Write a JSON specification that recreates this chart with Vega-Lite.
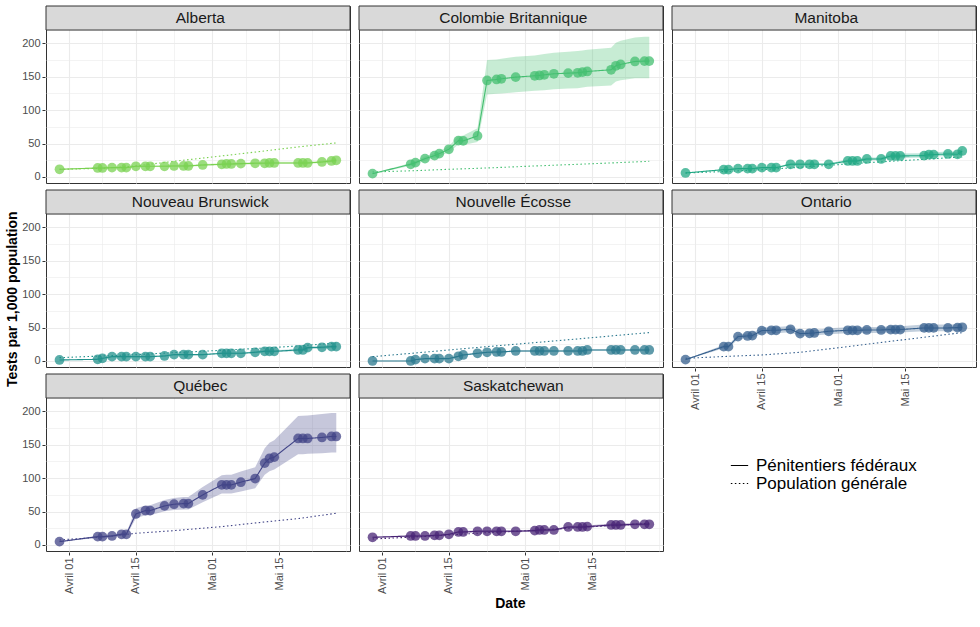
{
  "$schema": "https://vega.github.io/schema/vega-lite/v6.json",
  "config": {
    "font": "Liberation Sans",
    "view": {"stroke": "#333333", "strokeWidth": 1},
    "header": {"labels": false, "title": null},
    "axis": {"gridColor": "#EBEBEB", "domain": false, "tickColor": "#333333", "tickSize": 3, "labelColor": "#4D4D4D", "labelFontSize": 11, "labelPadding": 2, "titleFontSize": 14, "titleFontWeight": "bold", "titleColor": "#000000"},
    "legend": {"orient": "none"}
  },
  "title": {"text": "Date", "orient": "bottom", "anchor": "middle", "fontSize": 14, "fontWeight": "bold", "color": "#000000", "offset": 4, "dx": 19},
  "datasets": {"all": [
    {"p":"Alberta","d":"2020-03-30","t":"Pénitentiers fédéraux","v":11.5,"lo":11,"hi":12},
    {"p":"Alberta","d":"2020-04-07","t":"Pénitentiers fédéraux","v":13.5,"lo":12.5,"hi":14.5},
    {"p":"Alberta","d":"2020-04-08","t":"Pénitentiers fédéraux","v":13.5,"lo":12.5,"hi":14.5},
    {"p":"Alberta","d":"2020-04-10","t":"Pénitentiers fédéraux","v":14,"lo":13,"hi":15},
    {"p":"Alberta","d":"2020-04-12","t":"Pénitentiers fédéraux","v":14,"lo":13,"hi":15},
    {"p":"Alberta","d":"2020-04-13","t":"Pénitentiers fédéraux","v":14,"lo":13,"hi":15},
    {"p":"Alberta","d":"2020-04-15","t":"Pénitentiers fédéraux","v":16,"lo":15,"hi":17},
    {"p":"Alberta","d":"2020-04-17","t":"Pénitentiers fédéraux","v":16,"lo":15,"hi":17},
    {"p":"Alberta","d":"2020-04-18","t":"Pénitentiers fédéraux","v":16,"lo":15,"hi":17},
    {"p":"Alberta","d":"2020-04-21","t":"Pénitentiers fédéraux","v":16,"lo":15,"hi":17.5},
    {"p":"Alberta","d":"2020-04-23","t":"Pénitentiers fédéraux","v":16.5,"lo":15.5,"hi":18},
    {"p":"Alberta","d":"2020-04-25","t":"Pénitentiers fédéraux","v":16.5,"lo":15.5,"hi":18},
    {"p":"Alberta","d":"2020-04-26","t":"Pénitentiers fédéraux","v":16.5,"lo":15.5,"hi":18},
    {"p":"Alberta","d":"2020-04-29","t":"Pénitentiers fédéraux","v":18,"lo":16.5,"hi":19.5},
    {"p":"Alberta","d":"2020-05-03","t":"Pénitentiers fédéraux","v":19,"lo":17.5,"hi":20.5},
    {"p":"Alberta","d":"2020-05-04","t":"Pénitentiers fédéraux","v":19.5,"lo":18,"hi":21},
    {"p":"Alberta","d":"2020-05-05","t":"Pénitentiers fédéraux","v":19.5,"lo":18,"hi":21},
    {"p":"Alberta","d":"2020-05-07","t":"Pénitentiers fédéraux","v":20,"lo":18.5,"hi":21.5},
    {"p":"Alberta","d":"2020-05-10","t":"Pénitentiers fédéraux","v":20.5,"lo":19,"hi":22.5},
    {"p":"Alberta","d":"2020-05-12","t":"Pénitentiers fédéraux","v":20.5,"lo":19,"hi":22.5},
    {"p":"Alberta","d":"2020-05-13","t":"Pénitentiers fédéraux","v":21,"lo":19.5,"hi":23},
    {"p":"Alberta","d":"2020-05-14","t":"Pénitentiers fédéraux","v":21,"lo":19.5,"hi":23},
    {"p":"Alberta","d":"2020-05-19","t":"Pénitentiers fédéraux","v":21,"lo":19.5,"hi":23},
    {"p":"Alberta","d":"2020-05-20","t":"Pénitentiers fédéraux","v":21,"lo":19.5,"hi":23},
    {"p":"Alberta","d":"2020-05-21","t":"Pénitentiers fédéraux","v":21,"lo":19.5,"hi":23},
    {"p":"Alberta","d":"2020-05-24","t":"Pénitentiers fédéraux","v":22.5,"lo":21,"hi":24.5},
    {"p":"Alberta","d":"2020-05-26","t":"Pénitentiers fédéraux","v":24,"lo":22,"hi":26},
    {"p":"Alberta","d":"2020-05-27","t":"Pénitentiers fédéraux","v":25,"lo":23,"hi":27},

    {"p":"Colombie Britannique","d":"2020-03-30","t":"Pénitentiers fédéraux","v":5,"lo":4.5,"hi":5.5},
    {"p":"Colombie Britannique","d":"2020-04-07","t":"Pénitentiers fédéraux","v":19,"lo":17,"hi":21},
    {"p":"Colombie Britannique","d":"2020-04-08","t":"Pénitentiers fédéraux","v":21.5,"lo":19,"hi":24},
    {"p":"Colombie Britannique","d":"2020-04-10","t":"Pénitentiers fédéraux","v":27.5,"lo":24.5,"hi":30.5},
    {"p":"Colombie Britannique","d":"2020-04-12","t":"Pénitentiers fédéraux","v":32,"lo":28.5,"hi":36},
    {"p":"Colombie Britannique","d":"2020-04-13","t":"Pénitentiers fédéraux","v":35,"lo":31,"hi":39},
    {"p":"Colombie Britannique","d":"2020-04-15","t":"Pénitentiers fédéraux","v":41.5,"lo":37,"hi":46.5},
    {"p":"Colombie Britannique","d":"2020-04-17","t":"Pénitentiers fédéraux","v":54.5,"lo":48.5,"hi":61},
    {"p":"Colombie Britannique","d":"2020-04-18","t":"Pénitentiers fédéraux","v":54,"lo":48,"hi":62},
    {"p":"Colombie Britannique","d":"2020-04-21","t":"Pénitentiers fédéraux","v":61.5,"lo":52.5,"hi":73},
    {"p":"Colombie Britannique","d":"2020-04-23","t":"Pénitentiers fédéraux","v":144.5,"lo":123.5,"hi":175},
    {"p":"Colombie Britannique","d":"2020-04-25","t":"Pénitentiers fédéraux","v":146,"lo":124.5,"hi":176},
    {"p":"Colombie Britannique","d":"2020-04-26","t":"Pénitentiers fédéraux","v":147,"lo":125,"hi":177},
    {"p":"Colombie Britannique","d":"2020-04-29","t":"Pénitentiers fédéraux","v":149.5,"lo":127,"hi":180},
    {"p":"Colombie Britannique","d":"2020-05-03","t":"Pénitentiers fédéraux","v":151.5,"lo":129,"hi":182},
    {"p":"Colombie Britannique","d":"2020-05-04","t":"Pénitentiers fédéraux","v":152,"lo":129.5,"hi":183},
    {"p":"Colombie Britannique","d":"2020-05-05","t":"Pénitentiers fédéraux","v":153,"lo":130,"hi":184},
    {"p":"Colombie Britannique","d":"2020-05-07","t":"Pénitentiers fédéraux","v":154.5,"lo":131.5,"hi":186},
    {"p":"Colombie Britannique","d":"2020-05-10","t":"Pénitentiers fédéraux","v":155.5,"lo":132.5,"hi":187.5},
    {"p":"Colombie Britannique","d":"2020-05-12","t":"Pénitentiers fédéraux","v":156,"lo":133,"hi":188.5},
    {"p":"Colombie Britannique","d":"2020-05-13","t":"Pénitentiers fédéraux","v":157,"lo":134,"hi":189.5},
    {"p":"Colombie Britannique","d":"2020-05-14","t":"Pénitentiers fédéraux","v":158,"lo":135,"hi":190.5},
    {"p":"Colombie Britannique","d":"2020-05-19","t":"Pénitentiers fédéraux","v":160.5,"lo":137,"hi":193.5},
    {"p":"Colombie Britannique","d":"2020-05-20","t":"Pénitentiers fédéraux","v":166.5,"lo":143,"hi":201},
    {"p":"Colombie Britannique","d":"2020-05-21","t":"Pénitentiers fédéraux","v":168.5,"lo":145,"hi":204},
    {"p":"Colombie Britannique","d":"2020-05-24","t":"Pénitentiers fédéraux","v":173,"lo":148,"hi":209},
    {"p":"Colombie Britannique","d":"2020-05-26","t":"Pénitentiers fédéraux","v":173.5,"lo":148,"hi":210},
    {"p":"Colombie Britannique","d":"2020-05-27","t":"Pénitentiers fédéraux","v":173.5,"lo":148,"hi":210},

    {"p":"Manitoba","d":"2020-03-30","t":"Pénitentiers fédéraux","v":6,"lo":5.5,"hi":6.5},
    {"p":"Manitoba","d":"2020-04-07","t":"Pénitentiers fédéraux","v":11,"lo":10,"hi":12},
    {"p":"Manitoba","d":"2020-04-08","t":"Pénitentiers fédéraux","v":11,"lo":10,"hi":12},
    {"p":"Manitoba","d":"2020-04-10","t":"Pénitentiers fédéraux","v":12.5,"lo":11.5,"hi":13.5},
    {"p":"Manitoba","d":"2020-04-12","t":"Pénitentiers fédéraux","v":12.5,"lo":11.5,"hi":13.5},
    {"p":"Manitoba","d":"2020-04-13","t":"Pénitentiers fédéraux","v":12.5,"lo":11.5,"hi":13.5},
    {"p":"Manitoba","d":"2020-04-15","t":"Pénitentiers fédéraux","v":14,"lo":13,"hi":15},
    {"p":"Manitoba","d":"2020-04-17","t":"Pénitentiers fédéraux","v":14,"lo":13,"hi":15},
    {"p":"Manitoba","d":"2020-04-18","t":"Pénitentiers fédéraux","v":14,"lo":13,"hi":15},
    {"p":"Manitoba","d":"2020-04-21","t":"Pénitentiers fédéraux","v":19,"lo":17.5,"hi":20.5},
    {"p":"Manitoba","d":"2020-04-23","t":"Pénitentiers fédéraux","v":19,"lo":17.5,"hi":20.5},
    {"p":"Manitoba","d":"2020-04-25","t":"Pénitentiers fédéraux","v":19,"lo":17.5,"hi":20.5},
    {"p":"Manitoba","d":"2020-04-26","t":"Pénitentiers fédéraux","v":19,"lo":17.5,"hi":20.5},
    {"p":"Manitoba","d":"2020-04-29","t":"Pénitentiers fédéraux","v":19,"lo":17.5,"hi":20.5},
    {"p":"Manitoba","d":"2020-05-03","t":"Pénitentiers fédéraux","v":24,"lo":22,"hi":26},
    {"p":"Manitoba","d":"2020-05-04","t":"Pénitentiers fédéraux","v":24,"lo":22,"hi":26},
    {"p":"Manitoba","d":"2020-05-05","t":"Pénitentiers fédéraux","v":24,"lo":22,"hi":26},
    {"p":"Manitoba","d":"2020-05-07","t":"Pénitentiers fédéraux","v":27,"lo":25,"hi":29},
    {"p":"Manitoba","d":"2020-05-10","t":"Pénitentiers fédéraux","v":27,"lo":25,"hi":29},
    {"p":"Manitoba","d":"2020-05-12","t":"Pénitentiers fédéraux","v":31.5,"lo":28.5,"hi":35},
    {"p":"Manitoba","d":"2020-05-13","t":"Pénitentiers fédéraux","v":31.5,"lo":28.5,"hi":35},
    {"p":"Manitoba","d":"2020-05-14","t":"Pénitentiers fédéraux","v":31.5,"lo":28.5,"hi":35},
    {"p":"Manitoba","d":"2020-05-19","t":"Pénitentiers fédéraux","v":32,"lo":29,"hi":35.5},
    {"p":"Manitoba","d":"2020-05-20","t":"Pénitentiers fédéraux","v":33.5,"lo":30.5,"hi":37},
    {"p":"Manitoba","d":"2020-05-21","t":"Pénitentiers fédéraux","v":33.5,"lo":30.5,"hi":37},
    {"p":"Manitoba","d":"2020-05-24","t":"Pénitentiers fédéraux","v":34.5,"lo":31.5,"hi":38},
    {"p":"Manitoba","d":"2020-05-26","t":"Pénitentiers fédéraux","v":34,"lo":31,"hi":37.5},
    {"p":"Manitoba","d":"2020-05-27","t":"Pénitentiers fédéraux","v":39,"lo":35.5,"hi":43},

    {"p":"Nouveau Brunswick","d":"2020-03-30","t":"Pénitentiers fédéraux","v":1.5,"lo":1,"hi":2},
    {"p":"Nouveau Brunswick","d":"2020-04-07","t":"Pénitentiers fédéraux","v":2.5,"lo":2,"hi":3},
    {"p":"Nouveau Brunswick","d":"2020-04-08","t":"Pénitentiers fédéraux","v":4,"lo":3.5,"hi":4.5},
    {"p":"Nouveau Brunswick","d":"2020-04-10","t":"Pénitentiers fédéraux","v":6.5,"lo":5.5,"hi":7.5},
    {"p":"Nouveau Brunswick","d":"2020-04-12","t":"Pénitentiers fédéraux","v":6.5,"lo":5.5,"hi":7.5},
    {"p":"Nouveau Brunswick","d":"2020-04-13","t":"Pénitentiers fédéraux","v":6.5,"lo":5.5,"hi":7.5},
    {"p":"Nouveau Brunswick","d":"2020-04-15","t":"Pénitentiers fédéraux","v":6.5,"lo":5.5,"hi":7.5},
    {"p":"Nouveau Brunswick","d":"2020-04-17","t":"Pénitentiers fédéraux","v":6.5,"lo":5.5,"hi":7.5},
    {"p":"Nouveau Brunswick","d":"2020-04-18","t":"Pénitentiers fédéraux","v":6.5,"lo":5.5,"hi":7.5},
    {"p":"Nouveau Brunswick","d":"2020-04-21","t":"Pénitentiers fédéraux","v":7.5,"lo":6.5,"hi":8.5},
    {"p":"Nouveau Brunswick","d":"2020-04-23","t":"Pénitentiers fédéraux","v":9.5,"lo":8.5,"hi":10.5},
    {"p":"Nouveau Brunswick","d":"2020-04-25","t":"Pénitentiers fédéraux","v":9.5,"lo":8.5,"hi":10.5},
    {"p":"Nouveau Brunswick","d":"2020-04-26","t":"Pénitentiers fédéraux","v":9.5,"lo":8.5,"hi":10.5},
    {"p":"Nouveau Brunswick","d":"2020-04-29","t":"Pénitentiers fédéraux","v":9.5,"lo":8.5,"hi":10.5},
    {"p":"Nouveau Brunswick","d":"2020-05-03","t":"Pénitentiers fédéraux","v":11.5,"lo":10.5,"hi":12.5},
    {"p":"Nouveau Brunswick","d":"2020-05-04","t":"Pénitentiers fédéraux","v":11.5,"lo":10.5,"hi":12.5},
    {"p":"Nouveau Brunswick","d":"2020-05-05","t":"Pénitentiers fédéraux","v":11.5,"lo":10.5,"hi":12.5},
    {"p":"Nouveau Brunswick","d":"2020-05-07","t":"Pénitentiers fédéraux","v":11.5,"lo":10.5,"hi":12.5},
    {"p":"Nouveau Brunswick","d":"2020-05-10","t":"Pénitentiers fédéraux","v":13,"lo":11.5,"hi":14.5},
    {"p":"Nouveau Brunswick","d":"2020-05-12","t":"Pénitentiers fédéraux","v":14.5,"lo":13,"hi":16},
    {"p":"Nouveau Brunswick","d":"2020-05-13","t":"Pénitentiers fédéraux","v":14.5,"lo":13,"hi":16},
    {"p":"Nouveau Brunswick","d":"2020-05-14","t":"Pénitentiers fédéraux","v":14.5,"lo":13,"hi":16},
    {"p":"Nouveau Brunswick","d":"2020-05-19","t":"Pénitentiers fédéraux","v":16.5,"lo":15,"hi":18},
    {"p":"Nouveau Brunswick","d":"2020-05-20","t":"Pénitentiers fédéraux","v":16.5,"lo":15,"hi":18},
    {"p":"Nouveau Brunswick","d":"2020-05-21","t":"Pénitentiers fédéraux","v":20,"lo":18,"hi":22},
    {"p":"Nouveau Brunswick","d":"2020-05-24","t":"Pénitentiers fédéraux","v":20.5,"lo":18.5,"hi":22.5},
    {"p":"Nouveau Brunswick","d":"2020-05-26","t":"Pénitentiers fédéraux","v":21.5,"lo":19.5,"hi":23.5},
    {"p":"Nouveau Brunswick","d":"2020-05-27","t":"Pénitentiers fédéraux","v":21.5,"lo":19.5,"hi":23.5},

    {"p":"Nouvelle Écosse","d":"2020-03-30","t":"Pénitentiers fédéraux","v":0,"lo":0,"hi":0.5},
    {"p":"Nouvelle Écosse","d":"2020-04-07","t":"Pénitentiers fédéraux","v":0,"lo":0,"hi":0.5},
    {"p":"Nouvelle Écosse","d":"2020-04-08","t":"Pénitentiers fédéraux","v":2,"lo":1.5,"hi":2.5},
    {"p":"Nouvelle Écosse","d":"2020-04-10","t":"Pénitentiers fédéraux","v":3.5,"lo":3,"hi":4},
    {"p":"Nouvelle Écosse","d":"2020-04-12","t":"Pénitentiers fédéraux","v":3.5,"lo":3,"hi":4},
    {"p":"Nouvelle Écosse","d":"2020-04-13","t":"Pénitentiers fédéraux","v":3.5,"lo":3,"hi":4},
    {"p":"Nouvelle Écosse","d":"2020-04-15","t":"Pénitentiers fédéraux","v":3.5,"lo":3,"hi":4},
    {"p":"Nouvelle Écosse","d":"2020-04-17","t":"Pénitentiers fédéraux","v":7,"lo":6,"hi":8},
    {"p":"Nouvelle Écosse","d":"2020-04-18","t":"Pénitentiers fédéraux","v":9,"lo":8,"hi":10},
    {"p":"Nouvelle Écosse","d":"2020-04-21","t":"Pénitentiers fédéraux","v":11.5,"lo":10.5,"hi":12.5},
    {"p":"Nouvelle Écosse","d":"2020-04-23","t":"Pénitentiers fédéraux","v":13,"lo":12,"hi":14},
    {"p":"Nouvelle Écosse","d":"2020-04-25","t":"Pénitentiers fédéraux","v":13.5,"lo":12.5,"hi":14.5},
    {"p":"Nouvelle Écosse","d":"2020-04-26","t":"Pénitentiers fédéraux","v":13.5,"lo":12.5,"hi":14.5},
    {"p":"Nouvelle Écosse","d":"2020-04-29","t":"Pénitentiers fédéraux","v":15,"lo":14,"hi":16},
    {"p":"Nouvelle Écosse","d":"2020-05-03","t":"Pénitentiers fédéraux","v":15,"lo":14,"hi":16},
    {"p":"Nouvelle Écosse","d":"2020-05-04","t":"Pénitentiers fédéraux","v":15,"lo":14,"hi":16},
    {"p":"Nouvelle Écosse","d":"2020-05-05","t":"Pénitentiers fédéraux","v":15,"lo":14,"hi":16},
    {"p":"Nouvelle Écosse","d":"2020-05-07","t":"Pénitentiers fédéraux","v":15,"lo":14,"hi":16},
    {"p":"Nouvelle Écosse","d":"2020-05-10","t":"Pénitentiers fédéraux","v":15,"lo":14,"hi":16},
    {"p":"Nouvelle Écosse","d":"2020-05-12","t":"Pénitentiers fédéraux","v":15,"lo":14,"hi":16},
    {"p":"Nouvelle Écosse","d":"2020-05-13","t":"Pénitentiers fédéraux","v":15,"lo":14,"hi":16},
    {"p":"Nouvelle Écosse","d":"2020-05-14","t":"Pénitentiers fédéraux","v":16.5,"lo":15.5,"hi":17.5},
    {"p":"Nouvelle Écosse","d":"2020-05-19","t":"Pénitentiers fédéraux","v":16.5,"lo":15.5,"hi":17.5},
    {"p":"Nouvelle Écosse","d":"2020-05-20","t":"Pénitentiers fédéraux","v":16.5,"lo":15.5,"hi":17.5},
    {"p":"Nouvelle Écosse","d":"2020-05-21","t":"Pénitentiers fédéraux","v":16.5,"lo":15.5,"hi":17.5},
    {"p":"Nouvelle Écosse","d":"2020-05-24","t":"Pénitentiers fédéraux","v":16.5,"lo":15.5,"hi":17.5},
    {"p":"Nouvelle Écosse","d":"2020-05-26","t":"Pénitentiers fédéraux","v":16.5,"lo":15.5,"hi":17.5},
    {"p":"Nouvelle Écosse","d":"2020-05-27","t":"Pénitentiers fédéraux","v":16.5,"lo":15.5,"hi":17.5},

    {"p":"Ontario","d":"2020-03-30","t":"Pénitentiers fédéraux","v":2,"lo":1.5,"hi":2.5},
    {"p":"Ontario","d":"2020-04-07","t":"Pénitentiers fédéraux","v":21.5,"lo":19,"hi":24},
    {"p":"Ontario","d":"2020-04-08","t":"Pénitentiers fédéraux","v":21.5,"lo":19,"hi":24},
    {"p":"Ontario","d":"2020-04-10","t":"Pénitentiers fédéraux","v":36.5,"lo":33,"hi":40},
    {"p":"Ontario","d":"2020-04-12","t":"Pénitentiers fédéraux","v":37.5,"lo":34,"hi":41},
    {"p":"Ontario","d":"2020-04-13","t":"Pénitentiers fédéraux","v":38,"lo":34.5,"hi":41.5},
    {"p":"Ontario","d":"2020-04-15","t":"Pénitentiers fédéraux","v":45.5,"lo":41,"hi":50},
    {"p":"Ontario","d":"2020-04-17","t":"Pénitentiers fédéraux","v":46,"lo":41.5,"hi":50.5},
    {"p":"Ontario","d":"2020-04-18","t":"Pénitentiers fédéraux","v":46,"lo":41.5,"hi":51},
    {"p":"Ontario","d":"2020-04-21","t":"Pénitentiers fédéraux","v":47.5,"lo":43,"hi":52.5},
    {"p":"Ontario","d":"2020-04-23","t":"Pénitentiers fédéraux","v":41,"lo":37,"hi":45},
    {"p":"Ontario","d":"2020-04-25","t":"Pénitentiers fédéraux","v":41.5,"lo":37.5,"hi":46},
    {"p":"Ontario","d":"2020-04-26","t":"Pénitentiers fédéraux","v":42,"lo":38,"hi":46.5},
    {"p":"Ontario","d":"2020-04-29","t":"Pénitentiers fédéraux","v":44.5,"lo":40,"hi":49},
    {"p":"Ontario","d":"2020-05-03","t":"Pénitentiers fédéraux","v":46,"lo":41.5,"hi":50.5},
    {"p":"Ontario","d":"2020-05-04","t":"Pénitentiers fédéraux","v":46,"lo":41.5,"hi":50.5},
    {"p":"Ontario","d":"2020-05-05","t":"Pénitentiers fédéraux","v":46,"lo":41.5,"hi":50.5},
    {"p":"Ontario","d":"2020-05-07","t":"Pénitentiers fédéraux","v":46.5,"lo":42,"hi":51},
    {"p":"Ontario","d":"2020-05-10","t":"Pénitentiers fédéraux","v":46.5,"lo":42,"hi":51},
    {"p":"Ontario","d":"2020-05-12","t":"Pénitentiers fédéraux","v":47,"lo":42.5,"hi":52},
    {"p":"Ontario","d":"2020-05-13","t":"Pénitentiers fédéraux","v":47,"lo":42.5,"hi":52},
    {"p":"Ontario","d":"2020-05-14","t":"Pénitentiers fédéraux","v":47,"lo":42.5,"hi":52},
    {"p":"Ontario","d":"2020-05-19","t":"Pénitentiers fédéraux","v":49.5,"lo":44.5,"hi":54.5},
    {"p":"Ontario","d":"2020-05-20","t":"Pénitentiers fédéraux","v":49.5,"lo":44.5,"hi":54.5},
    {"p":"Ontario","d":"2020-05-21","t":"Pénitentiers fédéraux","v":49.5,"lo":44.5,"hi":54.5},
    {"p":"Ontario","d":"2020-05-24","t":"Pénitentiers fédéraux","v":49.5,"lo":44.5,"hi":54.5},
    {"p":"Ontario","d":"2020-05-26","t":"Pénitentiers fédéraux","v":50,"lo":45,"hi":55},
    {"p":"Ontario","d":"2020-05-27","t":"Pénitentiers fédéraux","v":50.5,"lo":45.5,"hi":56},

    {"p":"Québec","d":"2020-03-30","t":"Pénitentiers fédéraux","v":5,"lo":4.5,"hi":5.5},
    {"p":"Québec","d":"2020-04-07","t":"Pénitentiers fédéraux","v":12.5,"lo":11,"hi":14},
    {"p":"Québec","d":"2020-04-08","t":"Pénitentiers fédéraux","v":12.5,"lo":11,"hi":14},
    {"p":"Québec","d":"2020-04-10","t":"Pénitentiers fédéraux","v":13.5,"lo":12,"hi":15},
    {"p":"Québec","d":"2020-04-12","t":"Pénitentiers fédéraux","v":16,"lo":14,"hi":18},
    {"p":"Québec","d":"2020-04-13","t":"Pénitentiers fédéraux","v":16,"lo":14,"hi":18},
    {"p":"Québec","d":"2020-04-15","t":"Pénitentiers fédéraux","v":46.5,"lo":40,"hi":55},
    {"p":"Québec","d":"2020-04-17","t":"Pénitentiers fédéraux","v":51.5,"lo":44.5,"hi":59},
    {"p":"Québec","d":"2020-04-18","t":"Pénitentiers fédéraux","v":51.5,"lo":44.5,"hi":59.5},
    {"p":"Québec","d":"2020-04-21","t":"Pénitentiers fédéraux","v":58.5,"lo":50.5,"hi":67.5},
    {"p":"Québec","d":"2020-04-23","t":"Pénitentiers fédéraux","v":61,"lo":52.5,"hi":70.5},
    {"p":"Québec","d":"2020-04-25","t":"Pénitentiers fédéraux","v":62,"lo":53,"hi":72},
    {"p":"Québec","d":"2020-04-26","t":"Pénitentiers fédéraux","v":62,"lo":53,"hi":72},
    {"p":"Québec","d":"2020-04-29","t":"Pénitentiers fédéraux","v":75,"lo":64,"hi":87},
    {"p":"Québec","d":"2020-05-03","t":"Pénitentiers fédéraux","v":90,"lo":77,"hi":104.5},
    {"p":"Québec","d":"2020-05-04","t":"Pénitentiers fédéraux","v":90,"lo":77,"hi":105},
    {"p":"Québec","d":"2020-05-05","t":"Pénitentiers fédéraux","v":90,"lo":77,"hi":105},
    {"p":"Québec","d":"2020-05-07","t":"Pénitentiers fédéraux","v":94,"lo":80,"hi":110},
    {"p":"Québec","d":"2020-05-10","t":"Pénitentiers fédéraux","v":99.5,"lo":85,"hi":116.5},
    {"p":"Québec","d":"2020-05-12","t":"Pénitentiers fédéraux","v":122.5,"lo":105,"hi":145},
    {"p":"Québec","d":"2020-05-13","t":"Pénitentiers fédéraux","v":129.5,"lo":110.5,"hi":153},
    {"p":"Québec","d":"2020-05-14","t":"Pénitentiers fédéraux","v":131.5,"lo":113,"hi":157},
    {"p":"Québec","d":"2020-05-19","t":"Pénitentiers fédéraux","v":159.5,"lo":136,"hi":193},
    {"p":"Québec","d":"2020-05-20","t":"Pénitentiers fédéraux","v":159.5,"lo":136,"hi":193.5},
    {"p":"Québec","d":"2020-05-21","t":"Pénitentiers fédéraux","v":159.5,"lo":136.5,"hi":194},
    {"p":"Québec","d":"2020-05-24","t":"Pénitentiers fédéraux","v":161,"lo":137.5,"hi":196},
    {"p":"Québec","d":"2020-05-26","t":"Pénitentiers fédéraux","v":162.5,"lo":138.5,"hi":197.5},
    {"p":"Québec","d":"2020-05-27","t":"Pénitentiers fédéraux","v":162.5,"lo":138.5,"hi":197.5},

    {"p":"Saskatchewan","d":"2020-03-30","t":"Pénitentiers fédéraux","v":11.5,"lo":10.5,"hi":12.5},
    {"p":"Saskatchewan","d":"2020-04-07","t":"Pénitentiers fédéraux","v":13.5,"lo":12.5,"hi":14.5},
    {"p":"Saskatchewan","d":"2020-04-08","t":"Pénitentiers fédéraux","v":13.5,"lo":12.5,"hi":14.5},
    {"p":"Saskatchewan","d":"2020-04-10","t":"Pénitentiers fédéraux","v":13.5,"lo":12.5,"hi":14.5},
    {"p":"Saskatchewan","d":"2020-04-12","t":"Pénitentiers fédéraux","v":14.5,"lo":13.5,"hi":15.5},
    {"p":"Saskatchewan","d":"2020-04-13","t":"Pénitentiers fédéraux","v":14.5,"lo":13.5,"hi":15.5},
    {"p":"Saskatchewan","d":"2020-04-15","t":"Pénitentiers fédéraux","v":16,"lo":15,"hi":17},
    {"p":"Saskatchewan","d":"2020-04-17","t":"Pénitentiers fédéraux","v":19.5,"lo":18,"hi":21},
    {"p":"Saskatchewan","d":"2020-04-18","t":"Pénitentiers fédéraux","v":19.5,"lo":18,"hi":21},
    {"p":"Saskatchewan","d":"2020-04-21","t":"Pénitentiers fédéraux","v":20.5,"lo":19,"hi":22},
    {"p":"Saskatchewan","d":"2020-04-23","t":"Pénitentiers fédéraux","v":20.5,"lo":19,"hi":22},
    {"p":"Saskatchewan","d":"2020-04-25","t":"Pénitentiers fédéraux","v":20.5,"lo":19,"hi":22},
    {"p":"Saskatchewan","d":"2020-04-26","t":"Pénitentiers fédéraux","v":20.5,"lo":19,"hi":22},
    {"p":"Saskatchewan","d":"2020-04-29","t":"Pénitentiers fédéraux","v":20.5,"lo":19,"hi":22},
    {"p":"Saskatchewan","d":"2020-05-03","t":"Pénitentiers fédéraux","v":21.5,"lo":20,"hi":23},
    {"p":"Saskatchewan","d":"2020-05-04","t":"Pénitentiers fédéraux","v":22.5,"lo":21,"hi":24},
    {"p":"Saskatchewan","d":"2020-05-05","t":"Pénitentiers fédéraux","v":22.5,"lo":21,"hi":24},
    {"p":"Saskatchewan","d":"2020-05-07","t":"Pénitentiers fédéraux","v":22.5,"lo":21,"hi":24},
    {"p":"Saskatchewan","d":"2020-05-10","t":"Pénitentiers fédéraux","v":27,"lo":25.5,"hi":28.5},
    {"p":"Saskatchewan","d":"2020-05-12","t":"Pénitentiers fédéraux","v":27,"lo":25.5,"hi":28.5},
    {"p":"Saskatchewan","d":"2020-05-13","t":"Pénitentiers fédéraux","v":27,"lo":25.5,"hi":28.5},
    {"p":"Saskatchewan","d":"2020-05-14","t":"Pénitentiers fédéraux","v":27.5,"lo":26,"hi":29},
    {"p":"Saskatchewan","d":"2020-05-19","t":"Pénitentiers fédéraux","v":30,"lo":28,"hi":32},
    {"p":"Saskatchewan","d":"2020-05-20","t":"Pénitentiers fédéraux","v":30,"lo":28,"hi":32},
    {"p":"Saskatchewan","d":"2020-05-21","t":"Pénitentiers fédéraux","v":30,"lo":28,"hi":32},
    {"p":"Saskatchewan","d":"2020-05-24","t":"Pénitentiers fédéraux","v":31,"lo":29,"hi":33},
    {"p":"Saskatchewan","d":"2020-05-26","t":"Pénitentiers fédéraux","v":31,"lo":29,"hi":33},
    {"p":"Saskatchewan","d":"2020-05-27","t":"Pénitentiers fédéraux","v":31,"lo":29,"hi":33},

    {"p":"Alberta","d":"2020-03-30","t":"Population générale","v":11.5},
    {"p":"Alberta","d":"2020-04-08","t":"Population générale","v":13},
    {"p":"Alberta","d":"2020-04-15","t":"Population générale","v":16.5},
    {"p":"Alberta","d":"2020-04-23","t":"Population générale","v":23.5},
    {"p":"Alberta","d":"2020-05-03","t":"Population générale","v":31.5},
    {"p":"Alberta","d":"2020-05-12","t":"Population générale","v":39},
    {"p":"Alberta","d":"2020-05-19","t":"Population générale","v":45},
    {"p":"Alberta","d":"2020-05-27","t":"Population générale","v":51},
    {"p":"Colombie Britannique","d":"2020-03-30","t":"Population générale","v":7.5},
    {"p":"Colombie Britannique","d":"2020-04-08","t":"Population générale","v":9.5},
    {"p":"Colombie Britannique","d":"2020-04-15","t":"Population générale","v":11.5},
    {"p":"Colombie Britannique","d":"2020-04-23","t":"Population générale","v":13.5},
    {"p":"Colombie Britannique","d":"2020-05-03","t":"Population générale","v":16.5},
    {"p":"Colombie Britannique","d":"2020-05-12","t":"Population générale","v":19},
    {"p":"Colombie Britannique","d":"2020-05-19","t":"Population générale","v":21},
    {"p":"Colombie Britannique","d":"2020-05-27","t":"Population générale","v":23.5},
    {"p":"Manitoba","d":"2020-03-30","t":"Population générale","v":6},
    {"p":"Manitoba","d":"2020-04-08","t":"Population générale","v":8.5},
    {"p":"Manitoba","d":"2020-04-15","t":"Population générale","v":11},
    {"p":"Manitoba","d":"2020-04-23","t":"Population générale","v":14.5},
    {"p":"Manitoba","d":"2020-05-03","t":"Population générale","v":19.5},
    {"p":"Manitoba","d":"2020-05-12","t":"Population générale","v":23.5},
    {"p":"Manitoba","d":"2020-05-19","t":"Population générale","v":26.5},
    {"p":"Manitoba","d":"2020-05-27","t":"Population générale","v":30},
    {"p":"Nouveau Brunswick","d":"2020-03-30","t":"Population générale","v":5},
    {"p":"Nouveau Brunswick","d":"2020-04-08","t":"Population générale","v":7.5},
    {"p":"Nouveau Brunswick","d":"2020-04-15","t":"Population générale","v":9.5},
    {"p":"Nouveau Brunswick","d":"2020-04-23","t":"Population générale","v":12.5},
    {"p":"Nouveau Brunswick","d":"2020-05-03","t":"Population générale","v":16},
    {"p":"Nouveau Brunswick","d":"2020-05-12","t":"Population générale","v":19.5},
    {"p":"Nouveau Brunswick","d":"2020-05-19","t":"Population générale","v":22.5},
    {"p":"Nouveau Brunswick","d":"2020-05-27","t":"Population générale","v":27},
    {"p":"Nouvelle Écosse","d":"2020-03-30","t":"Population générale","v":6.5},
    {"p":"Nouvelle Écosse","d":"2020-04-08","t":"Population générale","v":12},
    {"p":"Nouvelle Écosse","d":"2020-04-15","t":"Population générale","v":16.5},
    {"p":"Nouvelle Écosse","d":"2020-04-23","t":"Population générale","v":21.5},
    {"p":"Nouvelle Écosse","d":"2020-05-03","t":"Population générale","v":27.5},
    {"p":"Nouvelle Écosse","d":"2020-05-12","t":"Population générale","v":33},
    {"p":"Nouvelle Écosse","d":"2020-05-19","t":"Population générale","v":37.5},
    {"p":"Nouvelle Écosse","d":"2020-05-27","t":"Population générale","v":42.5},
    {"p":"Ontario","d":"2020-03-30","t":"Population générale","v":4},
    {"p":"Ontario","d":"2020-04-08","t":"Population générale","v":7},
    {"p":"Ontario","d":"2020-04-15","t":"Population générale","v":9},
    {"p":"Ontario","d":"2020-04-23","t":"Population générale","v":13},
    {"p":"Ontario","d":"2020-05-03","t":"Population générale","v":21.5},
    {"p":"Ontario","d":"2020-05-12","t":"Population générale","v":29.5},
    {"p":"Ontario","d":"2020-05-19","t":"Population générale","v":35.5},
    {"p":"Ontario","d":"2020-05-27","t":"Population générale","v":42.5},
    {"p":"Québec","d":"2020-03-30","t":"Population générale","v":7.5},
    {"p":"Québec","d":"2020-04-08","t":"Population générale","v":12},
    {"p":"Québec","d":"2020-04-15","t":"Population générale","v":17.5},
    {"p":"Québec","d":"2020-04-23","t":"Population générale","v":21.5},
    {"p":"Québec","d":"2020-05-03","t":"Population générale","v":27.5},
    {"p":"Québec","d":"2020-05-12","t":"Population générale","v":34.5},
    {"p":"Québec","d":"2020-05-19","t":"Population générale","v":39.5},
    {"p":"Québec","d":"2020-05-27","t":"Population générale","v":47.5},
    {"p":"Saskatchewan","d":"2020-03-30","t":"Population générale","v":9},
    {"p":"Saskatchewan","d":"2020-04-08","t":"Population générale","v":12},
    {"p":"Saskatchewan","d":"2020-04-15","t":"Population générale","v":15},
    {"p":"Saskatchewan","d":"2020-04-23","t":"Population générale","v":18.5},
    {"p":"Saskatchewan","d":"2020-05-03","t":"Population générale","v":22},
    {"p":"Saskatchewan","d":"2020-05-12","t":"Population générale","v":26},
    {"p":"Saskatchewan","d":"2020-05-19","t":"Population générale","v":29},
    {"p":"Saskatchewan","d":"2020-05-27","t":"Population générale","v":32.5}
  ]},
  "vconcat": [{
    "title": {"text": "Tests par 1,000 population", "orient": "left", "anchor": "middle", "fontSize": 14, "fontWeight": "bold", "color": "#000000", "offset": 2},
    "data": {"name": "all"},
    "spacing": 7,
    "hconcat": [
      {
        "transform": [{"filter": {"field": "p", "oneOf": ["Alberta", "Nouveau Brunswick", "Québec"]}}],
        "facet": {"row": {"field": "p", "type": "nominal", "title": null, "sort": ["Alberta", "Nouveau Brunswick", "Québec"], "header": {"labels": false, "title": null}}},
        "spacing": 5,
        "spec": {
          "width": 304, "height": 177,
          "encoding": {
            "x": {"field": "d", "type": "temporal", "title": null,
              "scale": {"type": "utc", "domain": [{"year": 2020, "month": "mar", "date": 27, "hours": 4, "utc": true}, {"year": 2020, "month": "may", "date": 29, "hours": 21, "utc": true}]},
              "axis": {
                "values": [{"year": 2020, "month": "apr", "date": 1, "utc": true}, {"year": 2020, "month": "apr", "date": 8, "utc": true}, {"year": 2020, "month": "apr", "date": 15, "utc": true}, {"year": 2020, "month": "apr", "date": 23, "utc": true}, {"year": 2020, "month": "may", "date": 1, "utc": true}, {"year": 2020, "month": "may", "date": 8, "utc": true}, {"year": 2020, "month": "may", "date": 15, "utc": true}, {"year": 2020, "month": "may", "date": 22, "utc": true}, {"year": 2020, "month": "may", "date": 29, "utc": true}],
                "labelExpr": "(utcdate(datum.value) == 1 || utcdate(datum.value) == 15) ? ((utcmonth(datum.value) == 3 ? 'Avril ' : 'Mai ') + utcFormat(datum.value, '%d')) : ''",
                "labelAngle": 270, "labelFlush": false, "labelOverlap": false,
                "tickOpacity": {"condition": {"test": "utcdate(datum.value) == 1 || utcdate(datum.value) == 15", "value": 1}, "value": 0},
                "gridWidth": {"condition": {"test": "utcdate(datum.value) == 1 || utcdate(datum.value) == 15", "value": 1.1}, "value": 0.6}
              }
            },
            "y": {"type": "quantitative", "title": null,
              "scale": {"domain": [-9, 256], "nice": false, "zero": false},
              "axis": {
                "values": [0, 25, 50, 75, 100, 125, 150, 175, 200],
                "labelExpr": "datum.value % 50 == 0 ? datum.label : ''",
                "tickOpacity": {"condition": {"test": "datum.value % 50 == 0", "value": 1}, "value": 0},
                "gridWidth": {"condition": {"test": "datum.value % 50 == 0", "value": 1.1}, "value": 0.6}
              }
            },
            "color": {"field": "p", "type": "nominal", "legend": null,
              "scale": {"domain": ["Alberta","Colombie Britannique","Manitoba","Nouveau Brunswick","Nouvelle Écosse","Ontario","Québec","Saskatchewan"],
                "range": ["#7AD151","#44BF70","#22A884","#21918C","#2A788E","#355F8D","#414487","#482475"]}}
          },
          "layer": [
            {"transform": [{"filter": "datum.t == 'Pénitentiers fédéraux'"}], "mark": {"type": "area", "opacity": 0.3}, "encoding": {"y": {"field": "lo"}, "y2": {"field": "hi"}}},
            {"mark": {"type": "line", "strokeWidth": 1.1}, "encoding": {"y": {"field": "v"},
              "strokeDash": {"field": "t", "type": "nominal", "scale": {"domain": ["Pénitentiers fédéraux", "Population générale"], "range": [[1, 0], [1.5, 2.5]]},
                "legend": {"title": null, "orient": "none", "legendX": 684, "legendY": 450, "symbolType": "stroke", "symbolStrokeColor": "#000000", "symbolStrokeWidth": 1.2, "symbolSize": 300, "labelFontSize": 17, "labelColor": "#000000", "labelLimit": 400, "rowPadding": 0, "labelOffset": 7}}}},
            {"transform": [{"filter": "datum.t == 'Pénitentiers fédéraux'"}], "mark": {"type": "circle", "size": 95, "opacity": 0.75}, "encoding": {"y": {"field": "v"}}},
            {"transform": [{"filter": "datum.t == 'Pénitentiers fédéraux' && utcdate(datum.d) == 30"}], "mark": {"type": "rect", "fill": "#D9D9D9", "stroke": "#333333", "strokeWidth": 1},
              "encoding": {"x": {"datum": {"year": 2020, "month": "mar", "date": 27, "hours": 4, "utc": true}, "type": "temporal"}, "x2": {"datum": {"year": 2020, "month": "may", "date": 29, "hours": 21, "utc": true}}, "y": {"datum": 220, "type": "quantitative"}, "y2": {"datum": 256}, "color": {"value": "#D9D9D9"}}},
            {"transform": [{"filter": "datum.t == 'Pénitentiers fédéraux' && utcdate(datum.d) == 30"}], "mark": {"type": "text", "fontSize": 15.5, "baseline": "middle", "align": "center"},
              "encoding": {"x": {"datum": {"year": 2020, "month": "apr", "date": 28, "hours": 12, "utc": true}, "type": "temporal"}, "y": {"datum": 238, "type": "quantitative"}, "text": {"field": "p", "type": "nominal"}, "color": {"value": "#1A1A1A"}}}
          ]
        }
      },
      {
        "transform": [{"filter": {"field": "p", "oneOf": ["Colombie Britannique", "Nouvelle Écosse", "Saskatchewan"]}}],
        "facet": {"row": {"field": "p", "type": "nominal", "title": null, "sort": ["Colombie Britannique", "Nouvelle Écosse", "Saskatchewan"], "header": {"labels": false, "title": null}}},
        "spacing": 5,
        "spec": {
          "width": 304, "height": 177,
          "encoding": {
            "x": {"field": "d", "type": "temporal", "title": null,
              "scale": {"type": "utc", "domain": [{"year": 2020, "month": "mar", "date": 27, "hours": 4, "utc": true}, {"year": 2020, "month": "may", "date": 29, "hours": 21, "utc": true}]},
              "axis": {
                "values": [{"year": 2020, "month": "apr", "date": 1, "utc": true}, {"year": 2020, "month": "apr", "date": 8, "utc": true}, {"year": 2020, "month": "apr", "date": 15, "utc": true}, {"year": 2020, "month": "apr", "date": 23, "utc": true}, {"year": 2020, "month": "may", "date": 1, "utc": true}, {"year": 2020, "month": "may", "date": 8, "utc": true}, {"year": 2020, "month": "may", "date": 15, "utc": true}, {"year": 2020, "month": "may", "date": 22, "utc": true}, {"year": 2020, "month": "may", "date": 29, "utc": true}],
                "labelExpr": "(utcdate(datum.value) == 1 || utcdate(datum.value) == 15) ? ((utcmonth(datum.value) == 3 ? 'Avril ' : 'Mai ') + utcFormat(datum.value, '%d')) : ''",
                "labelAngle": 270, "labelFlush": false, "labelOverlap": false,
                "tickOpacity": {"condition": {"test": "utcdate(datum.value) == 1 || utcdate(datum.value) == 15", "value": 1}, "value": 0},
                "gridWidth": {"condition": {"test": "utcdate(datum.value) == 1 || utcdate(datum.value) == 15", "value": 1.1}, "value": 0.6}
              }
            },
            "y": {"type": "quantitative", "title": null,
              "scale": {"domain": [-9, 256], "nice": false, "zero": false},
              "axis": {
                "values": [0, 25, 50, 75, 100, 125, 150, 175, 200],
                "labels": false, "ticks": false,
                "gridWidth": {"condition": {"test": "datum.value % 50 == 0", "value": 1.1}, "value": 0.6}
              }
            },
            "color": {"field": "p", "type": "nominal", "legend": null,
              "scale": {"domain": ["Alberta","Colombie Britannique","Manitoba","Nouveau Brunswick","Nouvelle Écosse","Ontario","Québec","Saskatchewan"],
                "range": ["#7AD151","#44BF70","#22A884","#21918C","#2A788E","#355F8D","#414487","#482475"]}}
          },
          "layer": [
            {"transform": [{"filter": "datum.t == 'Pénitentiers fédéraux'"}], "mark": {"type": "area", "opacity": 0.3}, "encoding": {"y": {"field": "lo"}, "y2": {"field": "hi"}}},
            {"mark": {"type": "line", "strokeWidth": 1.1}, "encoding": {"y": {"field": "v"},
              "strokeDash": {"field": "t", "type": "nominal", "scale": {"domain": ["Pénitentiers fédéraux", "Population générale"], "range": [[1, 0], [1.5, 2.5]]}, "legend": null}}},
            {"transform": [{"filter": "datum.t == 'Pénitentiers fédéraux'"}], "mark": {"type": "circle", "size": 95, "opacity": 0.75}, "encoding": {"y": {"field": "v"}}},
            {"transform": [{"filter": "datum.t == 'Pénitentiers fédéraux' && utcdate(datum.d) == 30"}], "mark": {"type": "rect", "fill": "#D9D9D9", "stroke": "#333333", "strokeWidth": 1},
              "encoding": {"x": {"datum": {"year": 2020, "month": "mar", "date": 27, "hours": 4, "utc": true}, "type": "temporal"}, "x2": {"datum": {"year": 2020, "month": "may", "date": 29, "hours": 21, "utc": true}}, "y": {"datum": 220, "type": "quantitative"}, "y2": {"datum": 256}, "color": {"value": "#D9D9D9"}}},
            {"transform": [{"filter": "datum.t == 'Pénitentiers fédéraux' && utcdate(datum.d) == 30"}], "mark": {"type": "text", "fontSize": 15.5, "baseline": "middle", "align": "center"},
              "encoding": {"x": {"datum": {"year": 2020, "month": "apr", "date": 28, "hours": 12, "utc": true}, "type": "temporal"}, "y": {"datum": 238, "type": "quantitative"}, "text": {"field": "p", "type": "nominal"}, "color": {"value": "#1A1A1A"}}}
          ]
        }
      },
      {
        "transform": [{"filter": {"field": "p", "oneOf": ["Manitoba", "Ontario"]}}],
        "facet": {"row": {"field": "p", "type": "nominal", "title": null, "sort": ["Manitoba", "Ontario"], "header": {"labels": false, "title": null}}},
        "spacing": 5,
        "spec": {
          "width": 304, "height": 177,
          "encoding": {
            "x": {"field": "d", "type": "temporal", "title": null,
              "scale": {"type": "utc", "domain": [{"year": 2020, "month": "mar", "date": 27, "hours": 4, "utc": true}, {"year": 2020, "month": "may", "date": 29, "hours": 21, "utc": true}]},
              "axis": {
                "values": [{"year": 2020, "month": "apr", "date": 1, "utc": true}, {"year": 2020, "month": "apr", "date": 8, "utc": true}, {"year": 2020, "month": "apr", "date": 15, "utc": true}, {"year": 2020, "month": "apr", "date": 23, "utc": true}, {"year": 2020, "month": "may", "date": 1, "utc": true}, {"year": 2020, "month": "may", "date": 8, "utc": true}, {"year": 2020, "month": "may", "date": 15, "utc": true}, {"year": 2020, "month": "may", "date": 22, "utc": true}, {"year": 2020, "month": "may", "date": 29, "utc": true}],
                "labelExpr": "(utcdate(datum.value) == 1 || utcdate(datum.value) == 15) ? ((utcmonth(datum.value) == 3 ? 'Avril ' : 'Mai ') + utcFormat(datum.value, '%d')) : ''",
                "labelAngle": 270, "labelFlush": false, "labelOverlap": false,
                "tickOpacity": {"condition": {"test": "utcdate(datum.value) == 1 || utcdate(datum.value) == 15", "value": 1}, "value": 0},
                "gridWidth": {"condition": {"test": "utcdate(datum.value) == 1 || utcdate(datum.value) == 15", "value": 1.1}, "value": 0.6}
              }
            },
            "y": {"type": "quantitative", "title": null,
              "scale": {"domain": [-9, 256], "nice": false, "zero": false},
              "axis": {
                "values": [0, 25, 50, 75, 100, 125, 150, 175, 200],
                "labels": false, "ticks": false,
                "gridWidth": {"condition": {"test": "datum.value % 50 == 0", "value": 1.1}, "value": 0.6}
              }
            },
            "color": {"field": "p", "type": "nominal", "legend": null,
              "scale": {"domain": ["Alberta","Colombie Britannique","Manitoba","Nouveau Brunswick","Nouvelle Écosse","Ontario","Québec","Saskatchewan"],
                "range": ["#7AD151","#44BF70","#22A884","#21918C","#2A788E","#355F8D","#414487","#482475"]}}
          },
          "layer": [
            {"transform": [{"filter": "datum.t == 'Pénitentiers fédéraux'"}], "mark": {"type": "area", "opacity": 0.3}, "encoding": {"y": {"field": "lo"}, "y2": {"field": "hi"}}},
            {"mark": {"type": "line", "strokeWidth": 1.1}, "encoding": {"y": {"field": "v"},
              "strokeDash": {"field": "t", "type": "nominal", "scale": {"domain": ["Pénitentiers fédéraux", "Population générale"], "range": [[1, 0], [1.5, 2.5]]}, "legend": null}}},
            {"transform": [{"filter": "datum.t == 'Pénitentiers fédéraux'"}], "mark": {"type": "circle", "size": 95, "opacity": 0.75}, "encoding": {"y": {"field": "v"}}},
            {"transform": [{"filter": "datum.t == 'Pénitentiers fédéraux' && utcdate(datum.d) == 30"}], "mark": {"type": "rect", "fill": "#D9D9D9", "stroke": "#333333", "strokeWidth": 1},
              "encoding": {"x": {"datum": {"year": 2020, "month": "mar", "date": 27, "hours": 4, "utc": true}, "type": "temporal"}, "x2": {"datum": {"year": 2020, "month": "may", "date": 29, "hours": 21, "utc": true}}, "y": {"datum": 220, "type": "quantitative"}, "y2": {"datum": 256}, "color": {"value": "#D9D9D9"}}},
            {"transform": [{"filter": "datum.t == 'Pénitentiers fédéraux' && utcdate(datum.d) == 30"}], "mark": {"type": "text", "fontSize": 15.5, "baseline": "middle", "align": "center"},
              "encoding": {"x": {"datum": {"year": 2020, "month": "apr", "date": 28, "hours": 12, "utc": true}, "type": "temporal"}, "y": {"datum": 238, "type": "quantitative"}, "text": {"field": "p", "type": "nominal"}, "color": {"value": "#1A1A1A"}}}
          ]
        }
      }
    ]
  }]
}
